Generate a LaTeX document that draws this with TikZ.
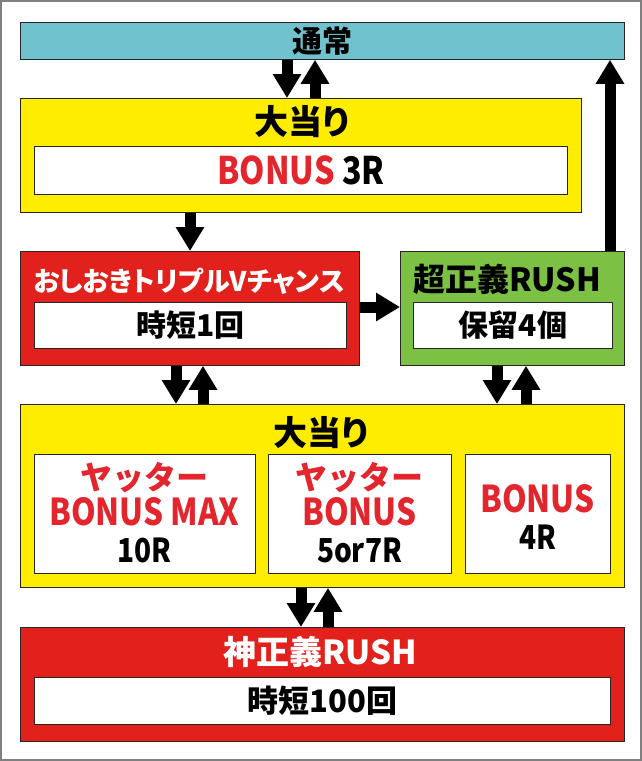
\documentclass[tikz,border=0pt]{standalone}
\usepackage{fontspec}
\setmainfont{Noto Sans CJK JP}[BoldFont={Noto Sans CJK JP Black}]
\newfontfamily\paltfont{Noto Sans CJK JP}[BoldFont={Noto Sans CJK JP Black},RawFeature=+palt]
\newfontfamily\condfont{Noto Sans CJK JP}[BoldFont={Noto Sans CJK JP Black},FakeStretch=0.85]
\usepackage{tikz}
\usetikzlibrary{arrows.meta}

\definecolor{tsujoblue}{HTML}{70C3CE}
\definecolor{atariyel}{HTML}{FFED00}
\definecolor{rushred}{HTML}{E2201C}
\definecolor{chougrn}{HTML}{7CC144}
\definecolor{bonusred}{HTML}{E3262D}
\definecolor{edgegray}{HTML}{808080}
\newcommand\fsz[1]{\fontsize{#1}{#1}\selectfont\bfseries}

\begin{document}
\begin{tikzpicture}[x=1pt,y=-1pt,
   box/.style={draw=black!85,line width=0.8pt,anchor=north west,inner sep=0pt},
   inbox/.style={box,fill=white},
   ttl/.style={inner sep=0pt},
   arr/.style={line width=11pt,-{Triangle[width=27pt,length=24pt]}}]
  \useasboundingbox (0,0) rectangle (642,761);
  \draw[edgegray,line width=2pt] (1,1) rectangle (641,760);
  % boxes
  \node[box,fill=tsujoblue,minimum width=604pt,minimum height=37pt,font=\fsz{30}] (tsujo) at (20,22) {通常};
  \node[box,fill=atariyel,minimum width=561pt,minimum height=114pt] (oa1) at (20,98) {};
  \node[ttl,font=\paltfont\fsz{34}] (oa1t) at (302,122) {大当り};
  \node[inbox,minimum width=533pt,minimum height=48pt,font=\condfont\fsz{38}] (oa1in) at (34,146) {\textcolor{bonusred}{BONUS} 3R};
  \node[box,fill=rushred,minimum width=339pt,minimum height=114pt] (oshi) at (20,251) {};
  \node[ttl,font=\paltfont\fsz{27},text=white] (oshit) at (189,281) {おしおきトリプルVチャンス};
  \node[inbox,minimum width=312pt,minimum height=46pt,font=\fsz{30}] (oshiin) at (34,302) {時短1回};
  \node[box,fill=chougrn,minimum width=224pt,minimum height=114pt] (chou) at (400,251) {};
  \node[ttl,font=\fsz{32}] (chout) at (507,279) {超正義RUSH};
  \node[inbox,minimum width=199pt,minimum height=46pt,font=\fsz{30}] (chouin) at (413,302) {保留4個};
  \node[box,fill=atariyel,minimum width=604pt,minimum height=183pt] (oa2) at (20,404) {};
  \node[ttl,font=\paltfont\fsz{34}] (oa2t) at (321,433) {大当り};
  \node[inbox,minimum width=221pt,minimum height=119pt] (ya1) at (34,454) {};
  \node[inbox,minimum width=183pt,minimum height=119pt] (ya2) at (268,454) {};
  \node[inbox,minimum width=145pt,minimum height=119pt] (bo4) at (465,454) {};
  \node[ttl,font=\fsz{32},text=bonusred] (ya1a) at (144.5,478) {ヤッター};
  \node[ttl,font=\condfont\fsz{37},text=bonusred] (ya1b) at (144.5,512) {BONUS MAX};
  \node[ttl,font=\condfont\fsz{33}] (ya1c) at (144.5,550) {10R};
  \node[ttl,font=\fsz{32},text=bonusred] (ya2a) at (359.5,478) {ヤッター};
  \node[ttl,font=\condfont\fsz{37},text=bonusred] (ya2b) at (359.5,512) {BONUS};
  \node[ttl,font=\condfont\fsz{33}] (ya2c) at (359.5,550) {5or7R};
  \node[ttl,font=\condfont\fsz{37},text=bonusred] (bo4a) at (537.5,499) {BONUS};
  \node[ttl,font=\condfont\fsz{33}] (bo4b) at (537.5,537) {4R};
  \node[box,fill=rushred,minimum width=604pt,minimum height=114pt] (kami) at (20,627) {};
  \node[ttl,font=\fsz{33},text=white] (kamit) at (320,652) {神正義RUSH};
  \node[inbox,minimum width=576pt,minimum height=47pt,font=\fsz{31}] (kamiin) at (34,677) {時短100回};
  % arrows
  \draw[arr] ([xshift=267pt]tsujo.south west) -- ([xshift=267pt]oa1.north west);
  \draw[arr] ([xshift=295pt]oa1.north west) -- ([xshift=295pt]tsujo.south west);
  \draw[arr] ([xshift=170pt]oa1.south west) -- ([xshift=170pt]oshi.north west);
  \draw[arr] ([yshift=-56pt]oshi.north east) -- ([yshift=-56pt]chou.north west);
  \draw[arr] ([xshift=210pt]chou.north west) -- ([xshift=590pt]tsujo.south west);
  \draw[arr] ([xshift=156pt]oshi.south west) -- ([xshift=156pt]oa2.north west);
  \draw[arr] ([xshift=183pt]oa2.north west) -- ([xshift=183pt]oshi.south west);
  \draw[arr] ([xshift=97pt]chou.south west) -- ([xshift=477pt]oa2.north west);
  \draw[arr] ([xshift=506pt]oa2.north west) -- ([xshift=126pt]chou.south west);
  \draw[arr] ([xshift=281pt]oa2.south west) -- ([xshift=281pt]kami.north west);
  \draw[arr] ([xshift=308pt]kami.north west) -- ([xshift=308pt]oa2.south west);
\end{tikzpicture}
\end{document}
